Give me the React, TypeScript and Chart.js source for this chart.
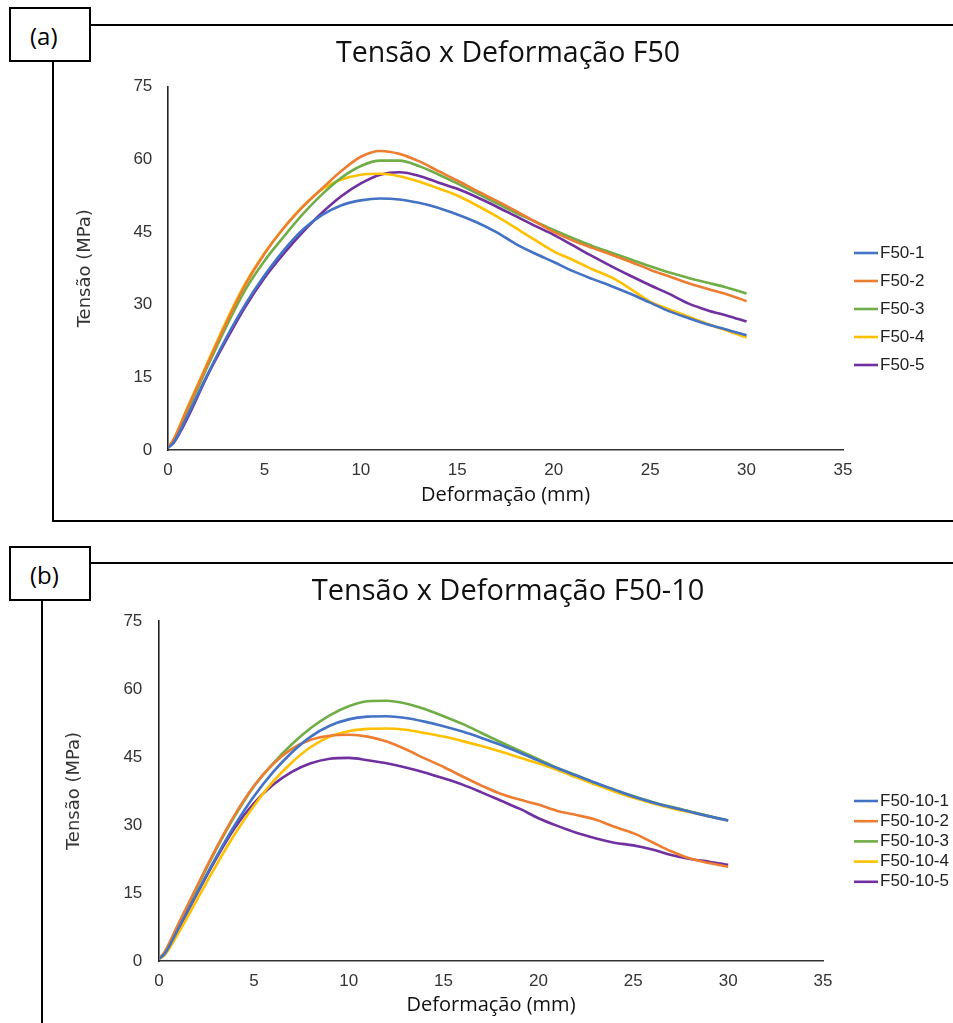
import React, { useEffect, useRef } from "react";
import { Chart, registerables } from "chart.js";

Chart.register(...registerables);

// ---------- data ----------
const X_MM = [0, 0.3, 1, 2, 3, 4, 5, 6, 7, 8, 9, 10, 11, 12, 13, 14, 15, 16, 17, 18, 19, 20, 21, 22, 23, 24, 25, 26, 27, 28, 29, 30];

const F50_TITLE = "Tensão x Deformação F50";
const F50_LABELS = ["F50-1", "F50-2", "F50-3", "F50-4", "F50-5"];
const F50_1 = [0.5, 1.6, 7.0, 15.2, 23.0, 30.0, 36.0, 41.2, 45.5, 48.5, 50.5, 51.5, 51.9, 51.7, 51.0, 50.0, 48.6, 47.0, 45.0, 42.6, 40.6, 38.8, 36.9, 35.3, 33.8, 32.2, 30.4, 28.6, 27.2, 25.9, 24.8, 23.7];
const F50_2 = [0.5, 2.2, 8.5, 17.3, 26.0, 34.0, 40.5, 45.8, 50.2, 54.0, 57.6, 60.5, 61.7, 61.1, 59.6, 57.6, 55.6, 53.5, 51.5, 49.4, 47.2, 45.0, 43.2, 41.7, 40.3, 38.8, 37.2, 35.8, 34.4, 33.2, 32.1, 30.7];
const F50_3 = [0.5, 2.0, 8.0, 16.8, 25.3, 33.0, 39.0, 44.0, 48.7, 52.8, 56.2, 58.6, 59.7, 59.7, 58.6, 56.9, 55.0, 53.0, 51.0, 49.0, 47.2, 45.4, 43.7, 42.1, 40.7, 39.3, 37.9, 36.6, 35.5, 34.5, 33.5, 32.3];
const F50_4 = [0.5, 2.3, 8.7, 17.6, 26.4, 34.3, 40.6, 45.8, 50.3, 53.8, 55.8, 56.8, 57.0, 56.5, 55.4, 54.0, 52.5, 50.5, 48.3, 45.9, 43.4, 41.0, 39.2, 37.3, 35.6, 33.2, 30.6, 29.0, 27.5, 26.0, 24.6, 23.2];
const F50_5 = [0.5, 1.5, 6.5, 15.0, 22.5, 29.5, 35.5, 40.5, 45.0, 49.0, 52.4, 55.0, 56.8, 57.3, 56.6, 55.2, 53.9, 52.2, 50.3, 48.3, 46.3, 44.4, 42.2, 40.0, 37.9, 35.9, 34.0, 32.2, 30.2, 28.8, 27.7, 26.5];

const F5010_TITLE = "Tensão x Deformação F50-10";
const F5010_LABELS = ["F50-10-1", "F50-10-2", "F50-10-3", "F50-10-4", "F50-10-5"];
const F5010_1 = [0.5, 1.6, 7.0, 15.0, 22.8, 30.0, 36.3, 41.6, 46.0, 49.5, 51.9, 53.3, 53.9, 54.0, 53.6, 52.8, 51.8, 50.6, 49.2, 47.7, 46.0, 44.2, 42.5, 40.9, 39.3, 37.8, 36.3, 35.0, 33.9, 32.9, 31.9, 31.0];
const F5010_2 = [0.5, 2.0, 8.0, 16.5, 24.8, 32.3, 38.6, 43.4, 46.8, 48.8, 49.7, 49.9, 49.5, 48.4, 46.7, 44.7, 42.8, 40.7, 38.7, 36.9, 35.6, 34.5, 33.1, 32.2, 31.2, 29.6, 28.2, 26.2, 24.2, 22.6, 21.6, 20.8];
const F5010_3 = [0.5, 1.9, 7.8, 16.2, 24.5, 32.0, 38.5, 43.5, 47.8, 51.4, 54.2, 56.2, 57.3, 57.4, 56.8, 55.6, 54.0, 52.3, 50.3, 48.3, 46.4, 44.5, 42.6, 41.0, 39.3, 37.8, 36.4, 35.1, 34.0, 33.0, 32.0, 31.0];
const F5010_4 = [0.5, 1.3, 6.0, 13.5, 21.0, 28.0, 34.2, 39.5, 43.8, 47.2, 49.5, 50.7, 51.2, 51.3, 51.0, 50.3, 49.5, 48.5, 47.4, 46.2, 44.9, 43.6, 42.1, 40.5, 38.9, 37.4, 36.0, 34.8, 33.7, 32.8, 31.9, 31.0];
const F5010_5 = [0.5, 1.5, 6.8, 14.8, 22.5, 29.4, 34.8, 38.8, 41.7, 43.6, 44.6, 44.8, 44.3, 43.6, 42.7, 41.6, 40.3, 38.9, 37.2, 35.4, 33.6, 31.5, 29.8, 28.3, 27.1, 26.1, 25.5, 24.6, 23.4, 22.5, 21.9, 21.2];

const SERIES_COLORS = ["#4472C4", "#ED7D31", "#70AD47", "#FFC000", "#7030A0"];

const X_MIN = 0;
const X_MAX = 35;
const X_STEP = 5;
const Y_MIN = 0;
const Y_MAX = 75;
const Y_STEP = 15;
const X_TITLE = "Deformação (mm)";
const Y_TITLE = "Tensão (MPa)";

// ---------- plugin: side legend drawn on the canvas ----------
const sideLegend = {
  id: "sideLegend",
  afterDraw(chart: any, _args: any, opts: any) {
    const { ctx } = chart;
    ctx.save();
    ctx.font = opts.fontSpec;
    ctx.textBaseline = "middle";
    ctx.textAlign = "left";
    chart.data.datasets.forEach((ds: any, i: number) => {
      const y = opts.top + i * opts.step;
      ctx.strokeStyle = ds.borderColor;
      ctx.lineWidth = opts.lineWidth;
      ctx.beginPath();
      ctx.moveTo(opts.left, y);
      ctx.lineTo(opts.left + opts.lineLength, y);
      ctx.stroke();
      ctx.fillStyle = opts.color;
      ctx.fillText(ds.label, opts.left + opts.lineLength + opts.gap, y);
    });
    ctx.restore();
  },
};

type PanelSpec = {
  title: string;
  titleSize: number;
  labels: string[];
  series: number[][];
  titlePad: { top: number; bottom: number };
  yAxisWidth: number;
  rightWidth: number;
  yTitlePad: number;
  yTickPad: number;
  padBottom: number;
  xTitlePadBottom: number;
  legendTop: number;
  legendStep: number;
};

function buildConfig(p: PanelSpec): any {
  const tickFont = { family: "'Liberation Sans', Arial, sans-serif", size: 17 };
  return {
    type: "line",
    data: {
      datasets: p.series.map((vals, i) => ({
        label: p.labels[i],
        data: X_MM.map((x, j) => ({ x, y: vals[j] })),
        borderColor: SERIES_COLORS[i],
        backgroundColor: SERIES_COLORS[i],
        borderWidth: 2.6,
        pointRadius: 0,
        fill: false,
        cubicInterpolationMode: "monotone",
      })),
    },
    options: {
      animation: false,
      responsive: false,
      events: [],
      layout: { padding: { left: 63, right: 0, top: 0, bottom: p.padBottom } },
      plugins: {
        legend: { display: false },
        tooltip: { enabled: false },
        title: {
          display: true,
          text: p.title,
          color: "#111",
          font: { family: "'Open Sans', sans-serif", size: p.titleSize, weight: "normal" },
          padding: p.titlePad,
        },
        sideLegend: {
          left: 854,
          top: p.legendTop,
          step: p.legendStep,
          lineLength: 24,
          gap: 2,
          lineWidth: 2.6,
          color: "#222",
          fontSpec: "17px 'Liberation Sans', Arial, sans-serif",
        },
      },
      scales: {
        x: {
          type: "linear",
          min: X_MIN,
          max: X_MAX,
          ticks: { stepSize: X_STEP, padding: 10, color: "#333", font: tickFont },
          grid: { display: false, drawTicks: false },
          border: { display: true, color: "#333", width: 1.6 },
          title: {
            display: true,
            text: X_TITLE,
            color: "#111",
            font: { family: "'Open Sans', sans-serif", size: 20 },
            padding: { top: 0, bottom: p.xTitlePadBottom },
          },
          afterFit: (s: any) => {
            s.height = 58;
          },
        },
        y: {
          type: "linear",
          min: Y_MIN,
          max: Y_MAX,
          ticks: { stepSize: Y_STEP, padding: p.yTickPad, color: "#333", font: tickFont },
          grid: { display: false, drawTicks: false },
          border: { display: true, color: "#222", width: 1.6 },
          title: {
            display: true,
            text: Y_TITLE,
            color: "#333",
            font: { family: "'DejaVu Sans', sans-serif", size: 18 },
            padding: { top: p.yTitlePad, bottom: 0 },
          },
          afterFit: (s: any) => {
            s.width = p.yAxisWidth;
          },
        },
        yR: {
          type: "linear",
          position: "right",
          display: true,
          ticks: { display: false },
          grid: { display: false, drawTicks: false },
          border: { display: false },
          title: { display: false },
          afterFit: (s: any) => {
            s.width = p.rightWidth;
          },
        },
      },
    },
    plugins: [sideLegend],
  };
}

const PANEL_A: PanelSpec = {
  title: F50_TITLE,
  titleSize: 28.5,
  labels: F50_LABELS,
  series: [F50_1, F50_2, F50_3, F50_4, F50_5],
  titlePad: { top: 36.4, bottom: 15.9 },
  yAxisWidth: 105,
  rightWidth: 110,
  yTitlePad: 12,
  yTickPad: 15.7,
  padBottom: 13,
  xTitlePadBottom: 0.5,
  legendTop: 253,
  legendStep: 28,
};

const PANEL_B: PanelSpec = {
  title: F5010_TITLE,
  titleSize: 29,
  labels: F5010_LABELS,
  series: [F5010_1, F5010_2, F5010_3, F5010_4, F5010_5],
  titlePad: { top: 44.6, bottom: 11.6 },
  yAxisWidth: 96,
  rightWidth: 130,
  yTitlePad: 0.7,
  yTickPad: 16.7,
  padBottom: 4,
  xTitlePadBottom: 1.6,
  legendTop: 271,
  legendStep: 20.2,
};

function PanelChart({ spec, top, height }: { spec: PanelSpec; top: number; height: number }) {
  const ref = useRef<HTMLCanvasElement | null>(null);
  useEffect(() => {
    if (!ref.current) return;
    const chart = new Chart(ref.current, buildConfig(spec));
    return () => chart.destroy();
  }, [spec]);
  return (
    <canvas
      ref={ref}
      width={953}
      height={height}
      style={{ position: "absolute", left: 0, top, width: 953, height, display: "block" }}
    />
  );
}

const line = (left: number, top: number, width: number, height: number): React.CSSProperties => ({
  position: "absolute",
  left,
  top,
  width,
  height,
  background: "#000",
});

const boxStyle = (left: number, top: number): React.CSSProperties => ({
  position: "absolute",
  left,
  top,
  width: 82,
  height: 55,
  border: "2px solid #000",
  boxSizing: "border-box",
  background: "#fff",
});

const labelStyle = (left: number, top: number): React.CSSProperties => ({
  position: "absolute",
  left,
  top,
  fontFamily: "'Open Sans', sans-serif",
  fontSize: 24,
  lineHeight: "24px",
  color: "#000",
  whiteSpace: "nowrap",
});

export default function App() {
  return (
    <div
      style={{
        position: "absolute",
        left: 0,
        top: 0,
        width: 953,
        height: 1023,
        overflow: "hidden",
        background: "#fff",
      }}
    >
      {/* panel (a) frame */}
      <div style={line(90, 24, 863, 2)} />
      <div style={line(52, 62, 2, 460)} />
      <div style={line(52, 520, 901, 2)} />
      <div style={boxStyle(9, 7)} />
      <div style={labelStyle(30, 23.6)}>(a)</div>

      {/* panel (b) frame */}
      <div style={line(90, 562, 863, 2)} />
      <div style={line(41, 600, 2, 423)} />
      <div style={boxStyle(9, 546)} />
      <div style={labelStyle(30, 563.2)}>(b)</div>

      <PanelChart spec={PANEL_A} top={0} height={521} />
      <PanelChart spec={PANEL_B} top={530} height={493} />
    </div>
  );
}
